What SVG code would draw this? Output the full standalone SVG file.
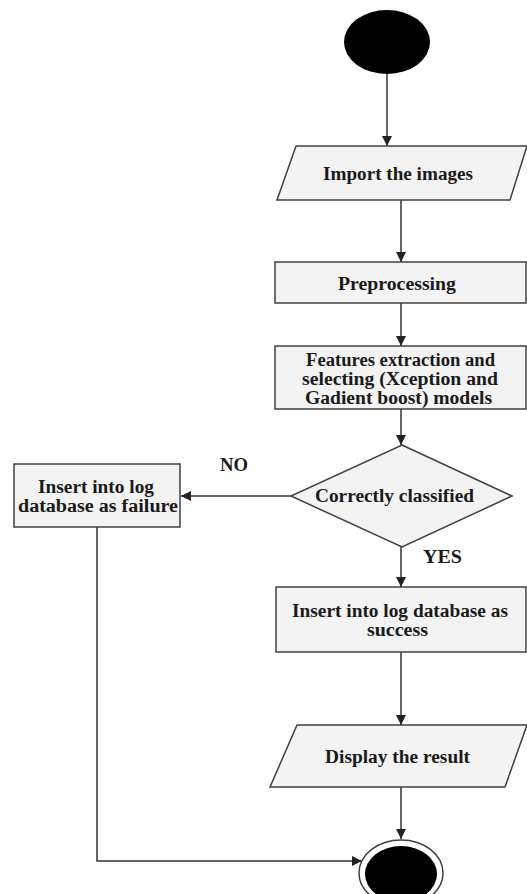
<svg xmlns="http://www.w3.org/2000/svg" width="527" height="894" viewBox="0 0 527 894">
  <style>
    .box { fill: #f3f3f3; stroke: #404040; stroke-width: 1.5; }
    .term { fill: #000; }
    .edge { fill: none; stroke: #333; stroke-width: 1.5; }
    text { font-family: "Liberation Serif", "Times New Roman", serif; font-size: 18.5px; font-weight: bold; fill: #1a1a1a; }
  </style>
  <defs>
    <marker id="arrow" viewBox="0 0 10 10" refX="10" refY="5" markerWidth="10" markerHeight="10" markerUnits="userSpaceOnUse" orient="auto">
      <path d="M0,0 L10,5 L0,10 Z" fill="#222"/>
    </marker>
  </defs>
  <rect width="527" height="894" fill="#fff"/>

  <g id="connectors">
    <line class="edge" x1="387" y1="74" x2="387" y2="146" marker-end="url(#arrow)"/>
    <line class="edge" x1="401" y1="200" x2="401" y2="262" marker-end="url(#arrow)"/>
    <line class="edge" x1="401" y1="303" x2="401" y2="346" marker-end="url(#arrow)"/>
    <line class="edge" x1="401" y1="409" x2="401" y2="445" marker-end="url(#arrow)"/>
    <line class="edge" x1="291" y1="496" x2="181" y2="496" marker-end="url(#arrow)"/>
    <line class="edge" x1="401" y1="547" x2="401" y2="587" marker-end="url(#arrow)"/>
    <line class="edge" x1="401" y1="652" x2="401" y2="725" marker-end="url(#arrow)"/>
    <line class="edge" x1="401" y1="787" x2="401" y2="839" marker-end="url(#arrow)"/>
    <polyline class="edge" points="97,527 97,861 362,861" marker-end="url(#arrow)"/>
    <text x="220" y="471" textLength="28" lengthAdjust="spacingAndGlyphs">NO</text>
    <text x="423" y="563" textLength="39" lengthAdjust="spacingAndGlyphs">YES</text>
  </g>

  <g id="start">
    <ellipse class="term" cx="387" cy="42" rx="43" ry="32"/>
  </g>

  <g id="import">
    <polygon class="box" points="296,146 527,146 510,200 277,200"/>
    <text x="323" y="180" textLength="150" lengthAdjust="spacingAndGlyphs">Import the images</text>
  </g>

  <g id="preprocessing">
    <rect class="box" x="275" y="262" width="251" height="41"/>
    <text x="338" y="290" textLength="118" lengthAdjust="spacingAndGlyphs">Preprocessing</text>
  </g>

  <g id="features">
    <rect class="box" x="275" y="346" width="251" height="63"/>
    <text x="306" y="366" textLength="189" lengthAdjust="spacingAndGlyphs">Features extraction and</text>
    <text x="302" y="385" textLength="196" lengthAdjust="spacingAndGlyphs">selecting (Xception and</text>
    <text x="305" y="404" textLength="187" lengthAdjust="spacingAndGlyphs">Gadient boost) models</text>
  </g>

  <g id="decision">
    <polygon class="box" points="402,445 512,496 402,547 291,496"/>
    <text x="315" y="502" textLength="159" lengthAdjust="spacingAndGlyphs">Correctly classified</text>
  </g>

  <g id="failure">
    <rect class="box" x="14" y="464" width="166" height="63"/>
    <text x="38" y="493" textLength="116" lengthAdjust="spacingAndGlyphs">Insert into log</text>
    <text x="18" y="512" textLength="160" lengthAdjust="spacingAndGlyphs">database as failure</text>
  </g>

  <g id="success">
    <rect class="box" x="276" y="587" width="250" height="65"/>
    <text x="292" y="617" textLength="216" lengthAdjust="spacingAndGlyphs">Insert into log database as</text>
    <text x="367" y="636" textLength="61" lengthAdjust="spacingAndGlyphs">success</text>
  </g>

  <g id="display">
    <polygon class="box" points="297,725 527,725 505,787 270,787"/>
    <text x="325" y="763" textLength="145" lengthAdjust="spacingAndGlyphs">Display the result</text>
  </g>

  <g id="end">
    <ellipse cx="401" cy="873" rx="42" ry="33" fill="#fff" stroke="#404040" stroke-width="1.5"/>
    <ellipse class="term" cx="401" cy="874" rx="36" ry="28"/>
  </g>
</svg>
